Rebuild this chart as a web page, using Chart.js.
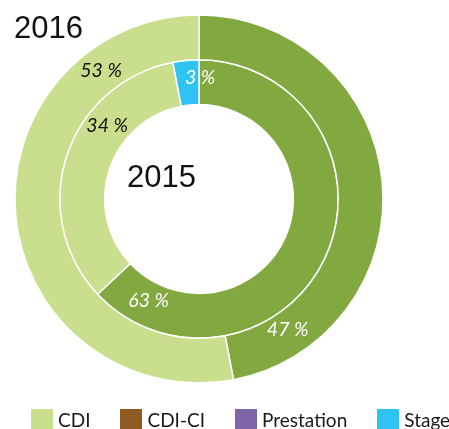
<!DOCTYPE html>
<html>
<head>
<meta charset="utf-8">
<script src="https://cdn.jsdelivr.net/npm/chart.js@4"></script>
<style>
    body { margin: 0; background: #fff; }
    .wrap { position: relative; width: 449px; height: 429px; overflow: hidden; }
    #legend { position: absolute; left: 31px; top: 409px; display: flex; font: 19px Lato, sans-serif; color: #1a1a1a; }
    .item { display: flex; align-items: flex-start; margin-right: 30px; white-space: nowrap; }
    .box { width: 22px; height: 20px; margin-right: 5px; }
    .item span { line-height: 22px; margin-top: 0px; }
</style>
</head>
<body>
<div class="wrap">
    <canvas id="chart" width="449" height="429"></canvas>
    <div id="legend"></div>
</div>
<script>
const categories = ['CDI', 'CDI-CI', 'Prestation', 'Stage'];
const years = ['2016', '2015'];
const values2016 = [53, 47, 0, 0];
const values2015 = [34, 63, 0, 3];

const legendColors = ['#C9DF8E', '#8F5A22', '#7E65A8', '#2EC3F2'];
const sliceColors = ['#C9DF8E', '#82A840', '#7E65A8', '#2EC3F2'];
const labelColors = ['#111', '#fff', '#fff', '#fff'];
// order the slices go round, clockwise from 12 o'clock
const drawOrder = [1, 0, 2, 3];

// where each percent label sits inside its slice (fraction of the arc, fraction of the ring)
const labelAlong = [[0.804, 0.862, 0.5, 0.5], [0.667, 0.91, 0.5, 1.05]];
const labelDepth = [[0.49, 0.42, 0.5, 0.5], [0.51, 0.42, 0.5, 0.6]];

function ordered(arr) {
    return drawOrder.map(i => arr[i]);
}

const arcLabels = {
    id: 'arcLabels',
    afterDatasetsDraw(chart) {
        const ctx = chart.ctx;
        ctx.save();
        ctx.textAlign = 'center';
        ctx.textBaseline = 'middle';
        ctx.font = 'italic 19.5px Lato, sans-serif';
        chart.data.datasets.forEach((ds, d) => {
            const meta = chart.getDatasetMeta(d);
            meta.data.forEach((arc, j) => {
                const cat = drawOrder[j];
                if (!ds.data[j]) return;
                const p = arc.getProps(['x', 'y', 'startAngle', 'endAngle', 'innerRadius', 'outerRadius'], true);
                const a = p.startAngle + labelAlong[d][cat] * (p.endAngle - p.startAngle);
                const r = p.innerRadius + labelDepth[d][cat] * (p.outerRadius - p.innerRadius);
                ctx.fillStyle = labelColors[cat];
                ctx.fillText(ds.data[j] + ' %', p.x + r * Math.cos(a), p.y + r * Math.sin(a));
            });
        });
        // year captions
        ctx.font = '31px "Liberation Sans Narrow", sans-serif';
        ctx.fillStyle = '#111';
        ctx.textAlign = 'left';
        ctx.textBaseline = 'alphabetic';
        ctx.fillText(years[0], 14, 38);
        ctx.fillText(years[1], 127, 187);
        ctx.restore();
    }
};

new Chart(document.getElementById('chart'), {
    type: 'doughnut',
    data: {
        labels: ordered(categories),
        datasets: [
            { label: years[0], data: ordered(values2016), backgroundColor: ordered(sliceColors) },
            { label: years[1], data: ordered(values2015), backgroundColor: ordered(sliceColors) },
        ],
    },
    options: {
        responsive: false,
        animation: false,
        radius: 184,
        cutout: 94,
        layout: { padding: { left: 15, right: 66, top: 15, bottom: 46 } },
        elements: { arc: { borderColor: '#fff', borderWidth: 1.5 } },
        plugins: { legend: { display: false }, tooltip: { enabled: false } },
    },
    plugins: [arcLabels],
});

document.getElementById('legend').innerHTML = categories.map((c, i) => `
    <div class="item">
        <div class="box" style="background:${legendColors[i]}"></div>
        <span>${c}</span>
    </div>`).join('');
</script>
</body>
</html>
